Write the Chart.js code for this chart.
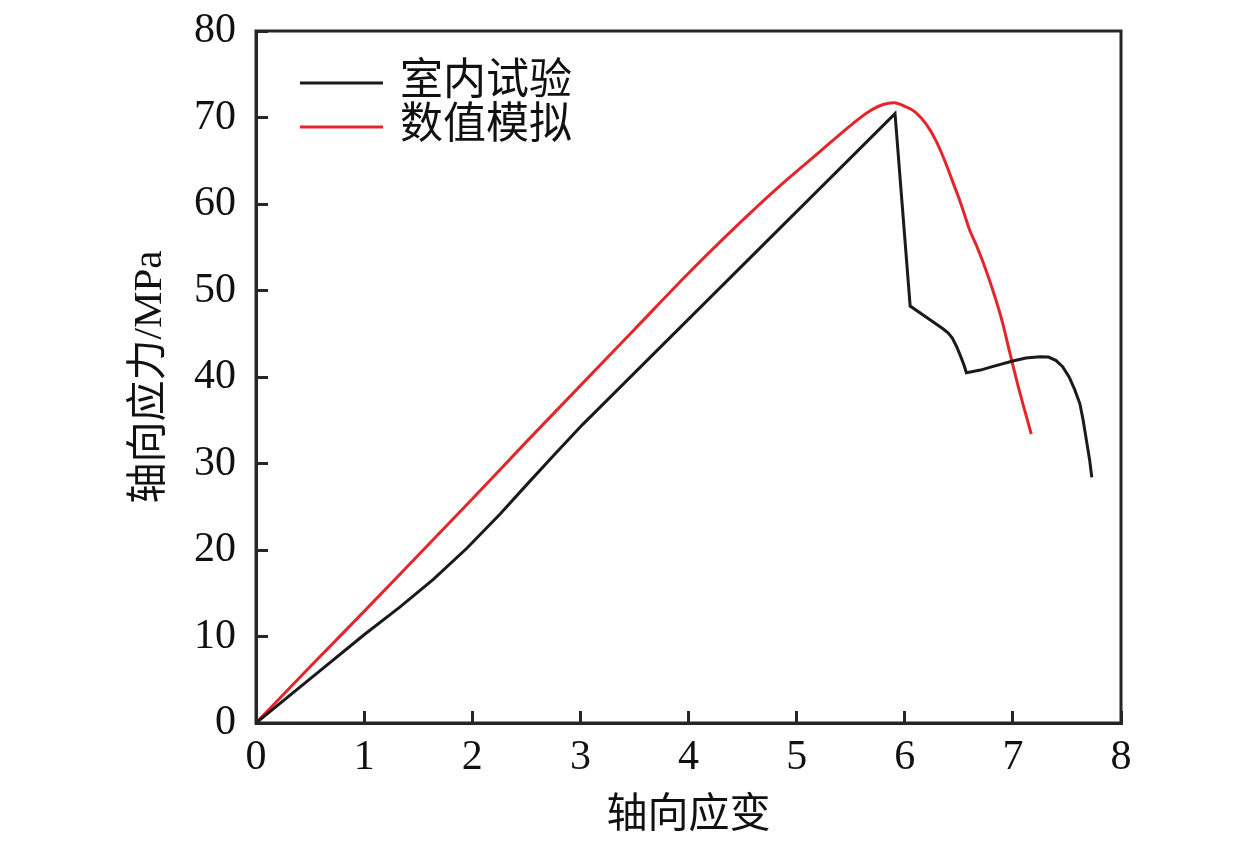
<!DOCTYPE html>
<html>
<head>
<meta charset="utf-8">
<script src="https://cdn.jsdelivr.net/npm/chart.js@4/dist/chart.umd.min.js"></script>
<style>
  html, body { margin: 0; padding: 0; background: #fff; }
  canvas { display: block; }
</style>
</head>
<body>
<canvas id="curve" width="1259" height="842"></canvas>
<script>
// strain (x) / stress MPa (y)
var labStrain = [0, 0.5, 1.0, 1.33, 1.64, 1.95, 2.26, 2.5, 2.75, 3.02, 5.91, 6.05, 6.2, 6.35, 6.4, 6.44, 6.48, 6.52, 6.55, 6.57,
    6.7, 6.81, 7.0, 7.12, 7.25, 7.33, 7.4, 7.46, 7.52, 7.57, 7.62, 7.65, 7.68, 7.71, 7.73];
var labStress = [0, 5.1, 10.2, 13.4, 16.6, 20.2, 24.2, 27.5, 30.9, 34.5, 70.45, 48.2, 46.9, 45.6, 45.1, 44.5, 43.5, 42.3, 41.3, 40.5,
    40.8, 41.2, 41.85, 42.2, 42.35, 42.3, 41.9, 41.2, 40.0, 38.6, 36.9, 35.0, 32.7, 30.4, 28.4];

var simStrain = [0, 0.5, 1.0, 1.5, 2.0, 2.5, 3.0, 3.5, 4.0, 4.29, 4.6, 4.9, 5.21, 5.52, 5.67, 5.8, 5.9, 6.0, 6.1, 6.2,
    6.29, 6.37, 6.44, 6.52, 6.6, 6.66, 6.72, 6.81, 6.9, 6.97, 7.05, 7.17];
var simStress = [0, 6.5, 12.9, 19.4, 25.9, 32.5, 39.0, 45.5, 52.0, 55.6, 59.3, 62.7, 66.0, 69.3, 70.7, 71.5, 71.7, 71.3, 70.6, 69.2,
    67.3, 65.0, 62.7, 60.0, 57.0, 55.3, 53.4, 50.2, 46.5, 42.9, 38.9, 33.4];

var seriesNames = ['室内试验', '数值模拟'];
var xTitle = '轴向应变';
var yTitle = '轴向应力/MPa';

function toPoints(xs, ys) {
    return xs.map(function (x, i) { return { x: x, y: ys[i] }; });
}

var fontFamily = "'Liberation Serif', 'Noto Sans CJK SC', serif";
var axisColor = '#262626';

// box round the plot
var framePlugin = {
    id: 'frame',
    afterDraw: function (chart) {
        var a = chart.chartArea;
        var ctx = chart.ctx;
        ctx.save();
        ctx.strokeStyle = axisColor;
        ctx.lineWidth = 3;
        ctx.strokeRect(a.left, a.top, a.right - a.left, a.bottom - a.top);
        ctx.restore();
    }
};

// legend drawn inside the plot, upper left
var innerLegend = {
    id: 'innerLegend',
    afterDraw: function (chart) {
        var ctx = chart.ctx;
        ctx.save();
        ctx.font = '43px ' + fontFamily;
        ctx.textBaseline = 'middle';
        ctx.textAlign = 'left';
        chart.data.datasets.forEach(function (ds, i) {
            var y = 83 + i * 44;
            ctx.strokeStyle = ds.borderColor;
            ctx.lineWidth = 3;
            ctx.beginPath();
            ctx.moveTo(300, y);
            ctx.lineTo(383, y);
            ctx.stroke();
            ctx.fillStyle = '#111';
            ctx.fillText(ds.label, 400, y);
        });
        ctx.restore();
    }
};

var ctx = document.getElementById('curve').getContext('2d');
var chart = new Chart(ctx, {
    type: 'line',
    data: {
        datasets: [{
            label: seriesNames[0],
            data: toPoints(labStrain, labStress),
            borderColor: '#1a1a1a',
            borderWidth: 3,
            pointRadius: 0,
            tension: 0,
            fill: false
        }, {
            label: seriesNames[1],
            data: toPoints(simStrain, simStress),
            borderColor: '#e3262b',
            borderWidth: 3,
            pointRadius: 0,
            cubicInterpolationMode: 'monotone',
            fill: false
        }]
    },
    options: {
        responsive: false,
        animation: false,
        devicePixelRatio: 1,
        layout: { padding: { left: 0, top: 31, right: 138, bottom: 0 } },
        plugins: {
            legend: { display: false },
            tooltip: { enabled: false }
        },
        scales: {
            x: {
                type: 'linear',
                min: 0,
                max: 8,
                afterFit: function (s) { s.height = 119; },
                ticks: {
                    stepSize: 1,
                    color: '#111',
                    padding: 22,
                    font: { family: fontFamily, size: 42 }
                },
                grid: {
                    drawOnChartArea: false,
                    drawTicks: true,
                    tickLength: -12,
                    tickWidth: 3,
                    tickColor: axisColor
                },
                border: { display: true, color: axisColor, width: 3 },
                title: {
                    display: true,
                    text: xTitle,
                    color: '#111',
                    font: { family: fontFamily, size: 41 },
                    padding: { top: 0, bottom: 1 }
                }
            },
            y: {
                type: 'linear',
                min: 0,
                max: 80,
                afterFit: function (s) {
                    s.width = 256;
                    s.paddingTop = 0;
                    s.paddingBottom = 0;
                },
                ticks: {
                    stepSize: 10,
                    color: '#111',
                    padding: 32,
                    font: { family: fontFamily, size: 42 }
                },
                grid: {
                    drawOnChartArea: false,
                    drawTicks: true,
                    tickLength: -12,
                    tickWidth: 3,
                    tickColor: axisColor
                },
                border: { display: true, color: axisColor, width: 3 },
                title: {
                    display: true,
                    text: yTitle,
                    color: '#111',
                    font: { family: fontFamily, size: 41 },
                    padding: { top: 126, bottom: 0 }
                }
            }
        }
    },
    plugins: [framePlugin, innerLegend]
});
</script>
</body>
</html>
